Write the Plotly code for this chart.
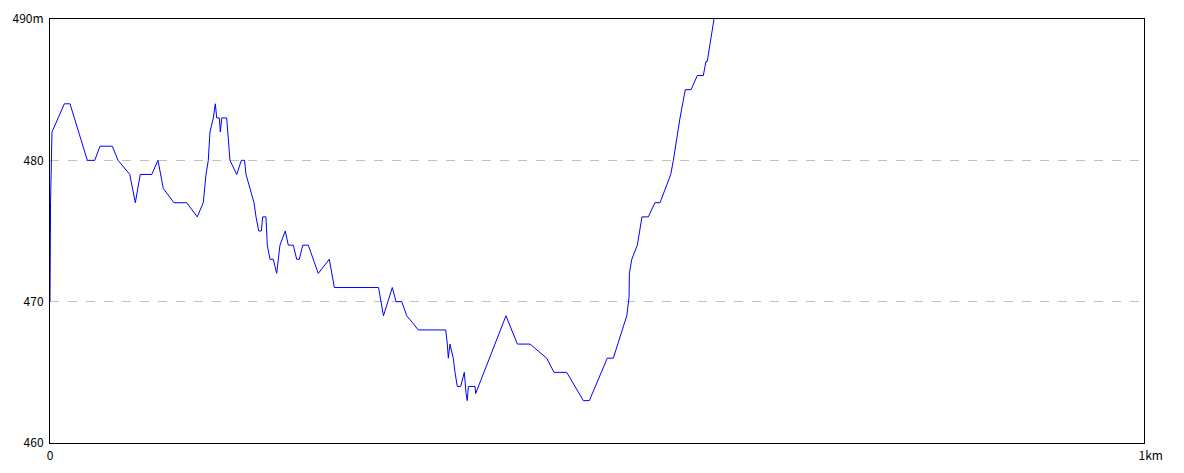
import plotly.graph_objects as go

# distance along route (m) and elevation (m)
distance_m = [0, 0.5, 1.8, 13.1, 18.3, 34.1, 40.9, 45.7, 56.9, 62.2, 72.9, 78.0, 82.5, 93.0, 98.7,
              103.6, 113.3, 125.0, 134.6, 140.1, 142.6, 144.7, 146.2, 149.3, 151.1, 152.4, 154.8,
              155.7, 157.0, 161.5, 164.5, 170.7, 174.9, 177.8, 179.2, 182.8, 186.5, 188.3, 190.8,
              193.2, 194.4, 197.4, 198.6, 201.1, 204.1, 207.2, 210.2, 215.1, 217.8, 222.4, 225.5,
              227.9, 231.0, 236.1, 240.7, 245.2, 255.3, 259.9, 300.3, 304.8, 312.9, 316.3, 321.5,
              326.1, 336.7, 361.7, 363.2, 364.1, 365.6, 368.6, 370.2, 372.3, 375.4, 378.7, 380.3,
              381.4, 382.4, 388.5, 389.1, 416.8, 427.2, 438.8, 454.0, 460.7, 472.3, 487.5, 493.0,
              509.4, 514.9, 527.2, 529.3, 529.6, 531.8, 536.9, 541.1, 546.9, 553.0, 557.6, 567.4,
              569.8, 575.9, 580.7, 586.0, 591.7, 597.2, 599.6, 600.8, 603.3, 606.9, 609.0]
elevation_m = [470, 477, 482, 484, 484, 480, 480, 481, 481, 480, 479, 477, 479, 479, 480,
               478, 477, 477, 476, 477, 479, 480, 482, 483, 484, 483, 483,
               482, 483, 483, 480, 479, 480, 480, 479, 478, 477, 476, 475,
               475, 476, 476, 474, 473, 473, 472, 474, 475, 474, 474, 473,
               473, 474, 474, 473, 472, 473, 471, 471, 469, 471, 470, 470,
               469, 468, 468, 467, 466, 467, 466, 465, 464, 464, 465, 463.5,
               463, 464, 464, 463.5, 469, 467, 467, 466, 465, 465, 463, 463,
               466, 466, 469, 470.3, 472, 473, 474, 476, 476, 477, 477, 479,
               480, 483, 485, 485, 486, 486, 487, 487, 488.3, 490, 491]

y_tick_vals = [460, 470, 480, 490]
y_tick_text = ["460", "470", "480", "490m"]
x_tick_vals = [0, 1000]
x_tick_text = ["0", "\u00a0\u00a0\u00a0\u00a0\u00a01km"]

fig = go.Figure()
fig.add_trace(go.Scatter(x=distance_m, y=elevation_m, mode="lines",
                         line=dict(color="#0000ff", width=1), hoverinfo="skip"))

font = dict(family="Noto Sans CJK JP, DejaVu Sans, sans-serif", size=12, color="black")
fig.update_layout(
    width=1168, height=457,
    margin=dict(l=42, r=32, t=11, b=22),
    paper_bgcolor="white", plot_bgcolor="white",
    showlegend=False, font=font,
    xaxis=dict(range=[0, 1000], tickvals=x_tick_vals, ticktext=x_tick_text,
               showgrid=False, zeroline=False, showline=True, linecolor="black",
               linewidth=1, mirror=True, ticks="", ticklabelstandoff=2,
               automargin=False),
    yaxis=dict(range=[460, 490], tickvals=y_tick_vals, ticktext=y_tick_text,
               showgrid=True, gridcolor="#c0c0c0", griddash="dash", gridwidth=1,
               zeroline=False, showline=True, linecolor="black", linewidth=1,
               mirror=True, ticks="", ticklabelstandoff=3, automargin=False),
)
fig.write_html("out.html")
